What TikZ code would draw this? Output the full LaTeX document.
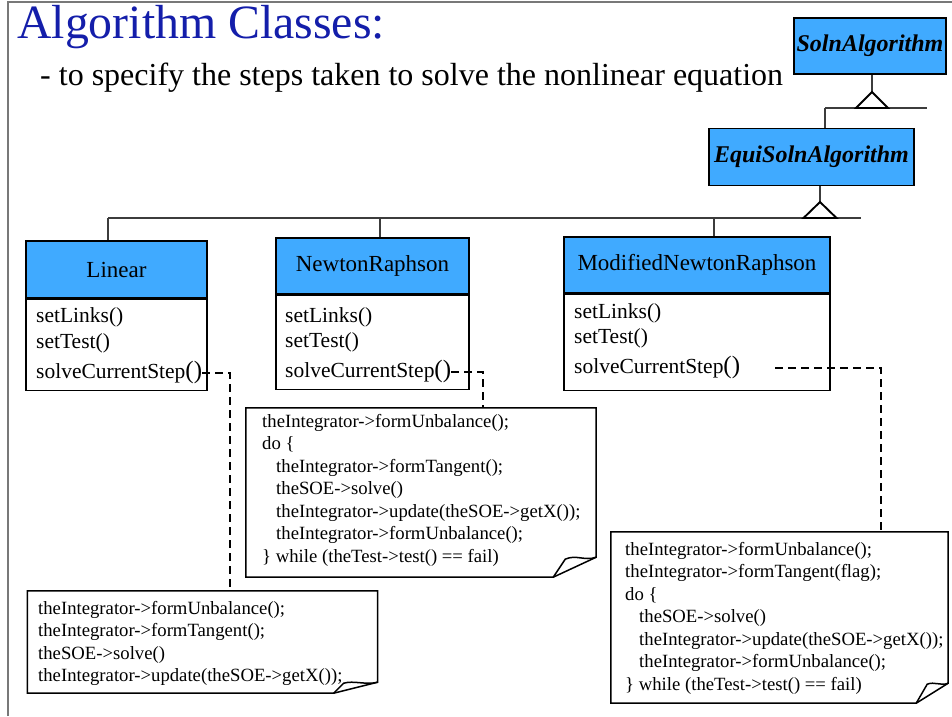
\documentclass[tikz,border=0pt]{standalone}
\usepackage{fontspec}
\setmainfont{Liberation Serif}
\definecolor{hdrblue}{RGB}{64,170,255}
\definecolor{titleblue}{RGB}{20,30,170}
\definecolor{framegray}{RGB}{120,120,120}
\definecolor{lineg}{RGB}{60,60,60}
\newcommand\methparens[1]{{\fontsize{25}{25}\selectfont #1}}
\newcommand\codelines[1]{\begin{tabular}[t]{@{}l@{}}#1\end{tabular}}
\newcommand\ind{\hspace*{14pt}}

\begin{document}
\begin{tikzpicture}[x=1pt,y=-1pt,
  frame/.style={draw=framegray, line width=1.5pt},
  titletext/.style={anchor=base west, inner sep=0, text=titleblue, font=\fontsize{47.8}{50}\selectfont},
  subtext/.style={anchor=base west, inner sep=0, font=\fontsize{32}{36}\selectfont},
  hdr/.style={draw=black, line width=1.5pt, fill=hdrblue, inner sep=0, font=\fontsize{23}{27}\selectfont},
  abstr/.style={hdr, font=\fontsize{24}{27}\selectfont\bfseries\itshape},
  classbody/.style={draw=black, line width=1.5pt, fill=white, inner sep=0, anchor=north},
  meth/.style={anchor=base west, inner sep=0, font=\fontsize{21.5}{25}\selectfont},
  gen/.style={draw=lineg, line width=1.4pt},
  tri/.style={draw=black, line width=1.9pt, fill=white, line join=miter},
  link/.style={draw=black, line width=1.8pt, dash pattern=on 8pt off 5pt},
  notebox/.style={draw=none, inner sep=0},
  noteline/.style={draw=black, line width=1.5pt, line join=miter},
  code/.style={anchor=base west, inner sep=0, font=\fontsize{18.7}{22.5}\selectfont}
]
\useasboundingbox (0,0) rectangle (952,716);

% page frame
\draw[frame] (8,716) -- (8,2) -- (952,2);

% heading
\node[titletext] (title) at (17,38) {Algorithm Classes:};
\node[subtext] (sub) at (40,85) {- to specify the steps taken to solve the nonlinear equation};

% abstract base classes
\node[abstr, minimum width=152, minimum height=56] (soln) at (870,46) {SolnAlgorithm};
\node[abstr, minimum width=205, minimum height=57] (equi) at (811.5,157) {EquiSolnAlgorithm};

% concrete classes: header and operations compartment
\node[hdr, minimum width=181, minimum height=57] (linH) at (116.5,269.5) {Linear};
\node[classbody, minimum width=181, minimum height=91] (linB) at (linH.south) {};
\node[hdr, minimum width=193, minimum height=56] (nrH) at (372.5,266) {NewtonRaphson};
\node[classbody, minimum width=193, minimum height=94] (nrB) at (nrH.south) {};
\node[hdr, minimum width=266, minimum height=56] (mnrH) at (697,265) {ModifiedNewtonRaphson};
\node[classbody, minimum width=266, minimum height=96] (mnrB) at (mnrH.south) {};

\node[meth] (lm1) at (36,322) {setLinks()};
\node[meth] (lm2) at (36,348) {setTest()};
\node[meth] (lm3) at (36,378) {solveCurrentStep\methparens{()}};
\node[meth] (nm1) at (285,322) {setLinks()};
\node[meth] (nm2) at (285,347) {setTest()};
\node[meth] (nm3) at (285,377) {solveCurrentStep\methparens{()}};
\node[meth] (mm1) at (574,318) {setLinks()};
\node[meth] (mm2) at (574,343) {setTest()};
\node[meth] (mm3) at (574,373) {solveCurrentStep\methparens{()}};

% generalization: SolnAlgorithm <- EquiSolnAlgorithm
\coordinate (apex1) at (872,92);
\coordinate (bar1w) at (825,108);
\coordinate (bar1e) at (927,108);
\draw[gen] (soln.south -| apex1) -- (apex1);
\draw[gen] (bar1w) -- (bar1e);
\draw[gen] (bar1w) -- (bar1w |- equi.north);
\draw[tri] (apex1) -- ++(-16,16) -- ++(32,0) -- cycle;

% generalization: EquiSolnAlgorithm <- concrete classes
\coordinate (apex2) at (820,202);
\coordinate (bar2w) at (108,218);
\coordinate (bar2e) at (861,218);
\coordinate (dropN) at (380,218);
\coordinate (dropM) at (714,218);
\draw[gen] (equi.south -| apex2) -- (apex2);
\draw[gen] (bar2w) -- (bar2e);
\draw[gen] (bar2w) -- (bar2w |- linH.north);
\draw[gen] (dropN) -- (dropN |- nrH.north);
\draw[gen] (dropM) -- (dropM |- mnrH.north);
\draw[tri] (apex2) -- ++(-16.5,16) -- ++(33,0) -- cycle;

% notes with folded corner
\node[notebox, minimum width=350, minimum height=169] (note1) at (421,492.5) {};
\node[notebox, minimum width=350, minimum height=102] (note2) at (202.5,642) {};
\node[notebox, minimum width=337, minimum height=171] (note3) at (779.5,617.5) {};

\draw[noteline] (note1.north west) -- (note1.north east) -- ([yshift=20pt]note1.south east)
  -- ([xshift=-43pt]note1.south east) -- (note1.south west) -- cycle;
\draw[noteline] ([xshift=-43pt]note1.south east) -- ([xshift=-31pt,yshift=18pt]note1.south east)
  .. controls ([xshift=-20pt,yshift=23pt]note1.south east) and ([xshift=-12pt,yshift=16pt]note1.south east)
  .. ([yshift=20pt]note1.south east);

\draw[noteline] (note2.north west) -- (note2.north east) -- ([yshift=11pt]note2.south east)
  -- ([xshift=-44pt]note2.south east) -- (note2.south west) -- cycle;
\draw[noteline] ([xshift=-44pt]note2.south east) -- ([xshift=-34pt,yshift=10pt]note2.south east)
  .. controls ([xshift=-24pt,yshift=13pt]note2.south east) and ([xshift=-12pt,yshift=8pt]note2.south east)
  .. ([yshift=11pt]note2.south east);

\draw[noteline] (note3.north west) -- (note3.north east) -- ([yshift=20pt]note3.south east)
  -- ([xshift=-32pt]note3.south east) -- (note3.south west) -- cycle;
\draw[noteline] ([xshift=-32pt]note3.south east) -- ([xshift=-21pt,yshift=19pt]note3.south east)
  .. controls ([xshift=-14pt,yshift=22pt]note3.south east) and ([xshift=-7pt,yshift=17pt]note3.south east)
  .. ([yshift=20pt]note3.south east);

\node[code] (code1) at (262,427) {\codelines{%
theIntegrator->formUnbalance();\\
do \{\\
\ind theIntegrator->formTangent();\\
\ind theSOE->solve()\\
\ind theIntegrator->update(theSOE->getX());\\
\ind theIntegrator->formUnbalance();\\
\} while (theTest->test() == fail)}};

\node[code] (code2) at (38,614) {\codelines{%
theIntegrator->formUnbalance();\\
theIntegrator->formTangent();\\
theSOE->solve()\\
theIntegrator->update(theSOE->getX());}};

\node[code] (code3) at (625,555) {\codelines{%
theIntegrator->formUnbalance();\\
theIntegrator->formTangent(flag);\\
do \{\\
\ind theSOE->solve()\\
\ind theIntegrator->update(theSOE->getX());\\
\ind theIntegrator->formUnbalance();\\
\} while (theTest->test() == fail)}};

% dashed note attachments
\coordinate (lk1) at (230,373);
\coordinate (lk2) at (483,372);
\coordinate (lk3a) at (775,368);
\coordinate (lk3b) at (881,368);
\draw[link] (lm3.east |- lk1) -- (lk1) -- (lk1 |- note2.north);
\draw[link] (nm3.east |- lk2) -- (lk2) -- (lk2 |- note1.north);
\draw[link] (lk3a) -- (lk3b) -- (lk3b |- note3.north);
\end{tikzpicture}
\end{document}
